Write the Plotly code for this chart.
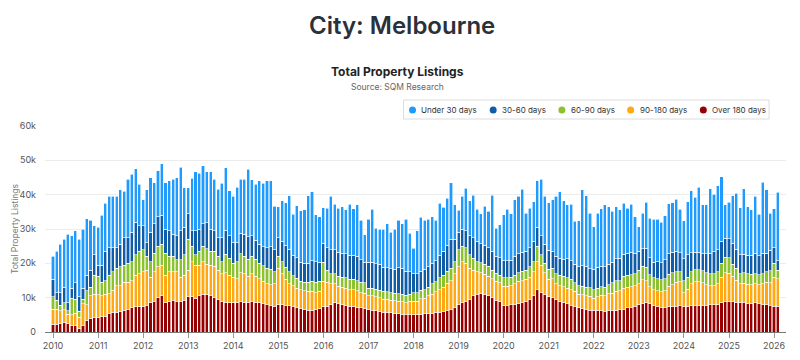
import pandas as pd
import plotly.graph_objects as go

# ---------------- data (thousands of listings, monthly Jan 2010 - Feb 2026) ----------------
months = pd.date_range("2010-01-01", periods=194, freq="MS")

over_180 = [
    2.3, 2.2, 2.4, 2.8, 2.4, 2.0, 2.0, 1.0, 1.8, 3.4, 3.8, 4.2,
    4.3, 4.4, 4.6, 5.4, 5.7, 5.7, 5.9, 6.4, 6.7, 7.0, 7.3, 7.4,
    7.5, 7.6, 8.5, 9.0, 10.0, 10.5, 8.5, 8.8, 9.3, 8.8, 9.0, 9.3,
    10.3, 10.2, 9.8, 10.5, 11.0, 10.8, 10.5, 10.0, 9.5, 9.0, 8.7, 8.5,
    8.5, 8.5, 8.8, 8.5, 8.7, 9.0, 8.7, 8.5, 8.3, 8.0, 7.8, 7.5,
    8.0, 8.0, 7.8, 7.6, 7.4, 7.2, 6.8, 6.5, 6.3, 6.3, 6.5, 6.8,
    7.3, 7.5, 8.0, 8.5, 8.3, 8.0, 7.8, 7.5, 7.5, 7.2, 7.0, 6.8,
    6.6, 6.4, 6.2, 6.0, 5.8, 5.7, 5.6, 5.5, 5.4, 5.2, 5.1, 5.0,
    5.0, 5.0, 5.2, 5.3, 5.5, 5.5, 5.7, 5.8, 6.0, 6.2, 6.5, 7.0,
    8.0, 8.5, 9.0, 9.5, 10.5, 11.0, 11.2, 11.0, 10.5, 10.0, 9.3, 8.8,
    7.8, 7.8, 7.9, 8.0, 8.3, 8.5, 8.8, 9.5, 10.5, 12.5, 11.5, 10.8,
    10.3, 10.0, 9.5, 9.0, 8.7, 8.3, 7.8, 7.3, 7.0, 6.8, 6.6, 6.4,
    6.3, 6.3, 6.2, 6.0, 6.2, 6.3, 6.4, 6.5, 6.7, 7.0, 7.2, 7.5,
    8.0, 8.4, 8.6, 8.2, 7.8, 7.5, 7.2, 7.0, 7.3, 7.3, 7.5, 7.6,
    7.4, 7.5, 7.6, 7.7, 7.7, 7.8, 7.8, 7.9, 7.9, 8.0, 8.5, 8.8,
    8.8, 8.8, 8.6, 8.5, 8.7, 8.4, 8.3, 8.5, 8.2, 8.0, 8.0, 7.8,
    7.5, 7.5,
]
d90_180 = [
    4.3, 4.4, 3.8, 3.7, 2.8, 3.0, 3.5, 3.3, 6.5, 4.6, 6.7, 6.8,
    6.5, 6.1, 6.4, 5.8, 6.5, 7.8, 7.6, 8.1, 7.8, 8.0, 9.2, 9.6,
    10.0, 10.4, 7.5, 8.5, 9.0, 9.0, 8.0, 8.7, 8.2, 8.7, 7.0, 7.2,
    7.7, 10.3, 9.7, 9.0, 9.5, 9.0, 9.0, 9.2, 8.5, 8.0, 8.5, 8.0,
    7.5, 7.0, 8.5, 8.5, 7.5, 8.0, 7.5, 7.0, 6.5, 6.0, 6.0, 6.5,
    10.5, 9.0, 7.5, 6.5, 6.0, 5.5, 5.5, 5.5, 5.5, 5.5, 5.0, 5.0,
    7.5, 7.0, 6.0, 5.5, 5.0, 5.0, 5.0, 4.8, 4.8, 4.8, 4.5, 4.5,
    4.0, 4.2, 4.0, 4.0, 3.8, 3.8, 3.6, 3.6, 3.6, 3.6, 3.4, 4.0,
    4.0, 4.0, 4.5, 4.5, 5.0, 5.5, 6.0, 6.5, 7.0, 8.0, 8.5, 10.0,
    11.0, 12.0, 11.0, 9.0, 7.5, 6.5, 6.0, 5.8, 5.8, 5.5, 5.5, 5.5,
    5.5, 5.5, 5.5, 6.0, 6.5, 6.5, 6.5, 6.5, 7.0, 8.0, 8.0, 6.5,
    5.0, 5.5, 4.5, 4.5, 4.5, 4.5, 4.5, 4.5, 4.0, 4.0, 4.0, 4.0,
    3.5, 4.0, 4.5, 4.5, 5.0, 5.0, 5.5, 5.5, 6.0, 6.0, 6.0, 6.0,
    6.0, 6.8, 6.3, 5.0, 4.5, 4.5, 4.5, 5.0, 6.0, 6.5, 7.0, 7.0,
    4.0, 5.0, 6.5, 7.0, 7.0, 6.5, 6.0, 5.5, 5.5, 6.0, 7.5, 8.5,
    8.3, 7.5, 6.5, 5.5, 5.5, 5.5, 5.5, 5.5, 5.5, 6.0, 6.5, 6.5,
    8.5, 8.0,
]
d60_90 = [
    3.7, 2.6, 1.6, 2.0, 1.0, 4.8, 4.0, 1.7, 1.2, 4.0, 2.5, 5.5,
    5.5, 4.0, 4.0, 5.3, 5.3, 5.0, 5.5, 5.0, 5.5, 5.5, 6.0, 6.5,
    6.5, 4.0, 4.5, 5.5, 6.0, 6.0, 6.5, 4.5, 4.5, 3.5, 5.0, 6.0,
    9.0, 4.5, 3.0, 4.0, 4.5, 4.5, 4.0, 4.3, 4.0, 3.5, 5.5, 5.0,
    4.0, 5.0, 5.5, 5.0, 5.0, 5.0, 5.0, 4.5, 4.5, 4.5, 4.5, 3.5,
    3.5, 3.5, 3.5, 3.5, 3.0, 3.0, 2.5, 2.5, 2.7, 3.0, 3.0, 3.0,
    5.5, 3.5, 3.0, 3.0, 3.0, 3.0, 3.0, 3.0, 3.0, 3.0, 3.0, 3.0,
    2.2, 2.2, 2.2, 2.2, 2.2, 2.2, 2.2, 2.2, 2.2, 2.2, 2.2, 2.0,
    2.5, 2.5, 2.5, 2.5, 2.5, 3.0, 3.0, 3.5, 3.5, 3.5, 3.5, 3.5,
    5.0, 4.5, 4.5, 4.0, 3.5, 3.0, 3.0, 3.0, 2.8, 2.5, 2.3, 2.3,
    2.5, 2.5, 2.5, 2.5, 2.5, 2.7, 2.7, 3.0, 3.0, 4.5, 3.0, 2.7,
    3.0, 3.0, 3.0, 3.0, 3.0, 3.0, 3.0, 2.5, 2.5, 2.5, 2.5, 2.5,
    2.5, 2.5, 2.5, 2.5, 2.5, 3.0, 3.0, 3.0, 3.5, 3.5, 3.5, 3.5,
    4.0, 4.0, 4.0, 3.5, 3.5, 3.5, 3.5, 3.5, 3.5, 3.5, 3.0, 3.0,
    3.5, 3.5, 3.5, 3.5, 3.5, 3.5, 3.5, 3.5, 3.5, 3.5, 4.0, 4.5,
    4.5, 3.5, 3.5, 3.0, 3.0, 3.0, 3.0, 3.0, 3.0, 3.0, 3.0, 3.5,
    4.0, 2.5,
]
d30_60 = [
    5.0, 2.3, 3.7, 4.5, 2.3, 3.0, 4.8, 4.3, 3.3, 4.5, 5.0, 6.0,
    3.2, 5.0, 8.5, 8.0, 7.0, 6.0, 6.5, 8.0, 7.5, 8.5, 9.5, 7.5,
    7.0, 4.0, 8.5, 8.5, 8.5, 8.5, 7.0, 7.5, 6.5, 7.0, 8.5, 8.0,
    7.5, 4.5, 7.0, 6.5, 6.5, 7.5, 6.5, 6.0, 5.5, 7.0, 7.0, 6.5,
    6.0, 5.5, 6.0, 6.5, 6.5, 6.0, 5.5, 5.5, 5.5, 6.0, 6.5, 6.5,
    5.5, 6.0, 6.5, 6.5, 6.0, 6.0, 5.5, 5.5, 5.5, 6.0, 6.0, 5.5,
    5.5, 6.5, 7.0, 7.0, 7.0, 7.0, 7.0, 7.0, 7.0, 7.0, 6.5, 6.0,
    7.5, 7.5, 7.5, 7.5, 7.0, 7.0, 7.0, 7.0, 7.5, 7.5, 7.0, 6.5,
    5.5, 5.5, 5.5, 6.0, 6.0, 6.0, 6.0, 6.5, 7.0, 7.5, 8.5, 6.5,
    5.0, 5.0, 5.0, 5.5, 6.0, 6.0, 5.5, 5.5, 5.5, 5.5, 5.0, 5.0,
    5.0, 5.0, 5.0, 5.5, 5.5, 5.5, 5.5, 5.5, 6.0, 5.5, 5.5, 5.5,
    5.5, 5.0, 5.0, 5.0, 5.0, 5.5, 5.5, 5.5, 5.5, 6.0, 6.0, 5.5,
    6.0, 6.0, 6.0, 6.0, 6.0, 6.0, 6.5, 6.5, 6.5, 6.5, 6.5, 6.0,
    5.5, 5.0, 5.5, 5.0, 4.5, 5.0, 5.0, 5.5, 6.0, 6.0, 6.0, 5.5,
    6.5, 6.5, 5.5, 5.0, 5.0, 5.0, 5.5, 6.0, 6.5, 6.5, 6.5, 5.5,
    5.5, 6.0, 5.5, 5.5, 5.5, 5.5, 5.5, 6.0, 5.5, 6.0, 5.5, 6.0,
    4.5, 2.7,
]
under_30 = [
    6.7, 12.0, 14.0, 14.0, 20.0, 15.2, 15.2, 16.7, 17.2, 16.5, 14.5, 8.5,
    11.0, 14.5, 14.0, 15.0, 15.0, 15.0, 16.0, 13.5, 17.0, 17.0, 15.5, 12.0,
    7.5, 15.5, 16.0, 12.0, 13.5, 15.0, 13.5, 14.5, 16.0, 17.0, 18.5, 11.5,
    7.5, 15.3, 17.2, 16.3, 16.9, 14.9, 16.7, 15.0, 14.1, 15.8, 18.2, 13.1,
    13.6, 16.1, 15.7, 16.0, 19.7, 16.3, 16.4, 18.6, 18.5, 19.5, 19.2, 12.7,
    9.0, 11.7, 12.4, 15.6, 11.9, 15.1, 15.0, 15.6, 19.7, 20.1, 13.6, 13.3,
    10.4, 11.6, 15.5, 13.2, 12.8, 13.5, 12.8, 14.9, 13.6, 15.0, 11.6, 8.0,
    12.5, 15.5, 10.3, 10.2, 11.1, 12.8, 10.6, 11.6, 13.9, 13.0, 15.1, 11.3,
    7.4, 12.5, 15.7, 14.3, 13.8, 13.6, 11.9, 15.2, 12.8, 13.8, 16.5, 10.0,
    6.4, 9.6, 12.4, 10.2, 12.4, 9.3, 8.7, 11.4, 10.5, 16.4, 8.1, 9.6,
    13.3, 15.0, 13.5, 16.5, 16.7, 18.4, 11.1, 11.5, 11.5, 13.6, 16.5, 14.0,
    13.9, 15.0, 17.5, 19.4, 17.1, 15.7, 16.4, 12.4, 13.4, 22.1, 20.6, 16.2,
    12.4, 15.8, 16.7, 18.0, 16.8, 14.8, 15.1, 14.1, 14.8, 13.1, 14.0, 10.5,
    7.2, 10.4, 13.4, 11.4, 12.5, 12.3, 11.7, 12.8, 14.5, 14.4, 15.2, 12.7,
    11.0, 15.5, 18.0, 16.0, 18.9, 14.2, 14.2, 18.8, 16.7, 18.6, 18.7, 9.7,
    10.7, 13.9, 16.3, 13.7, 19.0, 14.1, 13.3, 16.5, 12.1, 20.6, 18.4, 10.8,
    11.4, 20.0,
]

legend_labels = ["Under 30 days", "30-60 days", "60-90 days", "90-180 days", "Over 180 days"]
y_tick_vals = [0, 10, 20, 30, 40, 50, 60]
y_tick_text = ["0", "10k", "20k", "30k", "40k", "50k", "60k"]
x_tick_years = ["2010", "2011", "2012", "2013", "2014", "2015", "2016", "2017", "2018",
                "2019", "2020", "2021", "2022", "2023", "2024", "2025", "2026"]

# ---------------- styling ----------------
COLORS = {
    "Under 30 days": "#1f9bff",
    "30-60 days": "#0f5ca8",
    "60-90 days": "#8cc12f",
    "90-180 days": "#ffa812",
    "Over 180 days": "#960000",
}
FONT = "Inter, Lato, 'Open Sans', sans-serif"

# page body has an 8px margin, so figure coordinates = screen coordinates - 8
OFF = 8
W, H = 800, 360
L_M, R_M, T_M, B_M = 42 - OFF, 22, 126 - OFF, 36
PW, PH = W - L_M - R_M, H - T_M - B_M


def px(x):
    return (x - OFF - L_M) / PW


def py(y):
    return (H - B_M - (y - OFF)) / PH


stack = [
    ("Over 180 days", over_180),
    ("90-180 days", d90_180),
    ("60-90 days", d60_90),
    ("30-60 days", d30_60),
    ("Under 30 days", under_30),
]

fig = go.Figure()
for name, vals in stack:
    fig.add_trace(go.Bar(
        x=months, y=vals, name=name,
        marker=dict(color=COLORS[name], line=dict(color="white", width=0.6)),
        showlegend=False, hoverinfo="skip",
    ))

fig.update_layout(
    width=W, height=H,
    margin=dict(l=L_M, r=R_M, t=T_M, b=B_M),
    barmode="stack", bargap=0.1,
    plot_bgcolor="white", paper_bgcolor="white",
    font=dict(family=FONT, color="#555"),
    showlegend=False,
)

fig.update_xaxes(
    type="date",
    range=["2009-10-28", "2026-04-08"],
    tickvals=[pd.Timestamp(f"{y}-01-01") for y in x_tick_years],
    ticktext=x_tick_years,
    ticks="outside", ticklen=5, tickcolor="#999", tickwidth=1,
    showline=True, linecolor="#777", linewidth=1,
    showgrid=False, zeroline=False,
    tickfont=dict(size=9, color="#555", family=FONT),
)
fig.update_yaxes(
    range=[0, 60],
    tickvals=y_tick_vals, ticktext=y_tick_text,
    showgrid=True, gridcolor="#ececec", gridwidth=1,
    zeroline=False, showline=False, ticks="",
    ticklabelstandoff=8,
    tickfont=dict(size=9, color="#555", family=FONT),
)

annotations = [
    dict(text="City: Melbourne", x=px(400), y=py(25), xref="paper", yref="paper",
         showarrow=False, xanchor="center", yanchor="middle",
         font=dict(size=24, color="#2b3139", family=FONT, weight=600)),
    dict(text="Total Property Listings", x=px(396), y=py(72), xref="paper", yref="paper",
         showarrow=False, xanchor="center", yanchor="middle",
         font=dict(size=12, color="#222", family=FONT, weight=700)),
    dict(text="Source: SQM Research", x=px(396), y=py(87), xref="paper", yref="paper",
         showarrow=False, xanchor="center", yanchor="middle",
         font=dict(size=8.5, color="#666", family=FONT)),
    dict(text="Total Property Listings", x=px(12), y=py(229), xref="paper", yref="paper",
         showarrow=False, xanchor="center", yanchor="middle", textangle=-90,
         font=dict(size=8.5, color="#777", family=FONT)),
]

shapes = [
    dict(type="rect", xref="paper", yref="paper",
         x0=px(402), x1=px(769), y0=py(119), y1=py(100),
         line=dict(color="#dcdcdc", width=1), fillcolor="white", layer="above"),
]
legend_circle_x = [411, 492, 561, 630, 703]
for lab, cx in zip(legend_labels, legend_circle_x):
    shapes.append(dict(type="circle", xref="paper", yref="paper",
                       x0=px(cx - 3.5), x1=px(cx + 3.5), y0=py(113.5), y1=py(106.5),
                       fillcolor=COLORS[lab], line=dict(width=0), layer="above"))
    annotations.append(dict(text=lab, x=px(cx + 7), y=py(110), xref="paper", yref="paper",
                            showarrow=False, xanchor="left", yanchor="middle",
                            font=dict(size=8, color="#333", family=FONT)))

fig.update_layout(annotations=annotations, shapes=shapes)

fig.write_html("out.html")
